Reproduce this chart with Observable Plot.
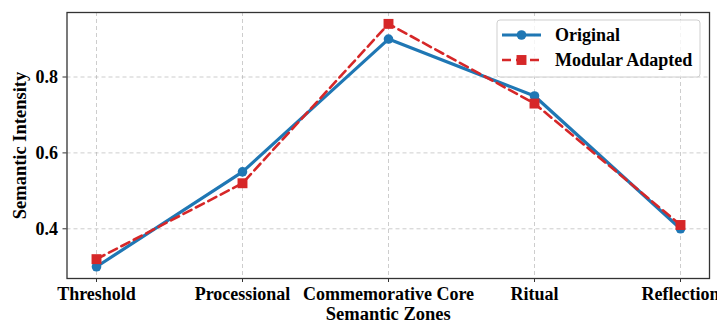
<!DOCTYPE html>
<html><head><meta charset="utf-8">
<script src="https://cdn.jsdelivr.net/npm/d3@7"></script>
<script src="https://cdn.jsdelivr.net/npm/@observablehq/plot@0.6"></script>
<style>body{margin:0;background:#fff}#chart{position:relative;width:717px;height:325px}</style>
</head><body><div id="chart"></div>
<script>
const zones = ["Threshold", "Processional", "Commemorative Core", "Ritual", "Reflection"];
const original = [0.30, 0.55, 0.90, 0.75, 0.40];
const modular = [0.32, 0.52, 0.94, 0.73, 0.41];
const yTicks = [0.4, 0.6, 0.8];
const seriesNames = ["Original", "Modular Adapted"];
const xLabel = "Semantic Zones";
const yLabel = "Semantic Intensity";

const origData = zones.map((z, i) => ({zone: z, value: original[i]}));
const modData = zones.map((z, i) => ({zone: z, value: modular[i]}));

const font = "'Liberation Serif','Times New Roman',serif";
const blue = "#1f77b4", red = "#d62728";
const gridStyle = {stroke: "#b0b0b0", strokeOpacity: 0.8, strokeDasharray: "4,3", strokeWidth: 0.8};

const plot = Plot.plot({
  width: 717, height: 325,
  marginLeft: 66.5, marginRight: 8, marginTop: 12, marginBottom: 47,
  style: {fontFamily: font, fontSize: "18px", fontWeight: "bold", color: "#000", background: "#fff"},
  x: {type: "point", domain: zones, padding: 0.2, label: null},
  y: {domain: [0.269, 0.970], label: null},
  marks: [
    Plot.gridX(zones, gridStyle),
    Plot.gridY(yTicks, gridStyle),
    Plot.axisY(yTicks, {tickSize: 4, tickPadding: 5, tickFormat: ".1f", label: null, stroke: "#333", fill: "#000"}),
    Plot.axisX(zones, {tickSize: 4, tickPadding: 4.5, label: null, stroke: "#333", fill: "#000"}),
    Plot.line(origData, {x: "zone", y: "value", stroke: blue, strokeWidth: 3.2}),
    Plot.dot(origData, {x: "zone", y: "value", r: 4.8, fill: blue, symbol: "circle"}),
    Plot.line(modData, {x: "zone", y: "value", stroke: red, strokeWidth: 2.6, strokeDasharray: "9,5"}),
    Plot.dot(modData, {x: "zone", y: "value", r: 5.6, fill: red, symbol: "square"}),
    Plot.frame({stroke: "#333", strokeWidth: 1.3}),
    Plot.text([xLabel], {frameAnchor: "bottom", dy: 36, lineAnchor: "middle", textAnchor: "middle", fontSize: 18.5, fontWeight: "bold", fill: "#000"}),
    Plot.text([yLabel], {frameAnchor: "left", dx: -46.5, rotate: -90, lineAnchor: "middle", textAnchor: "middle", fontSize: 18.5, fontWeight: "bold", fill: "#000"})
  ]
});
document.getElementById("chart").appendChild(plot);

// legend
const svg = d3.select(plot);
const lg = svg.append("g").attr("font-family", font).attr("font-weight", "bold").attr("font-size", 18).attr("text-anchor", "start");
lg.append("rect").attr("x", 497).attr("y", 20).attr("width", 203).attr("height", 57).attr("rx", 3)
  .attr("fill", "#fff").attr("fill-opacity", 0.8).attr("stroke", "#cfcfcf").attr("stroke-width", 1);
const items = [
  {name: seriesNames[0], color: blue, dash: null, w: 3.2, sym: d3.symbolCircle, size: Math.PI * 4.8 * 4.8},
  {name: seriesNames[1], color: red, dash: "9,5", w: 2.6, sym: d3.symbolSquare, size: Math.PI * 5.6 * 5.6}
];
items.forEach((it, i) => {
  const y = 35 + i * 25;
  lg.append("line").attr("x1", 502).attr("x2", 541).attr("y1", y).attr("y2", y)
    .attr("stroke", it.color).attr("stroke-width", it.w).attr("stroke-dasharray", it.dash);
  lg.append("path").attr("d", d3.symbol(it.sym, it.size)()).attr("transform", `translate(521.5,${y})`).attr("fill", it.color);
  lg.append("text").attr("x", 555).attr("y", y).attr("dy", "0.35em").attr("fill", "#000").attr("text-anchor", "start").text(it.name);
});
</script>
</body></html>
